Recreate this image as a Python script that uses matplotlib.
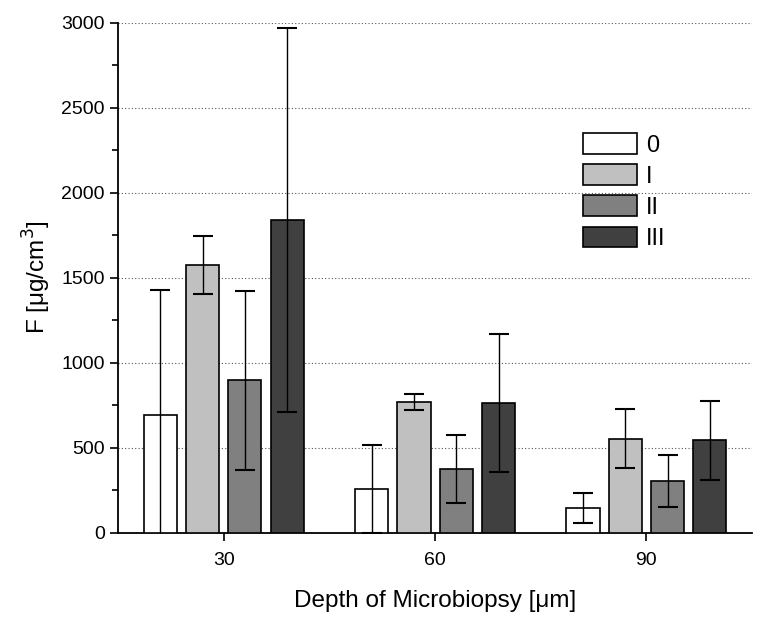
import numpy as np
import matplotlib
matplotlib.use("Agg")
import matplotlib.pyplot as plt

plt.rcParams['font.family'] = ['Liberation Sans', 'DejaVu Sans']

# data
depths = [30, 60, 90]
groups = ["0", "I", "II", "III"]
colors = ["#ffffff", "#c0c0c0", "#808080", "#404040"]
means = {
    "0":   [690, 257, 147],
    "I":   [1575, 770, 553],
    "II":  [896, 375, 306],
    "III": [1840, 763, 543],
}
errors = {
    "0":   [740, 256, 89],
    "I":   [170, 47, 173],
    "II":  [525, 200, 153],
    "III": [1130, 405, 233],
}

fig = plt.figure(figsize=(7.62, 6.26), dpi=100)
ax = fig.add_axes([0.155, 0.149, 0.832, 0.815])

x = np.array(depths, dtype=float)
width = 4.7
offsets = [-9, -3, 3, 9]
for g, c, off in zip(groups, colors, offsets):
    ax.bar(x + off, means[g], width, color=c, edgecolor="black", linewidth=1.2,
           label=g, zorder=3)
    ax.errorbar(x + off, means[g], yerr=errors[g], fmt="none", ecolor="black",
                elinewidth=1.0, capsize=7, capthick=1.5, zorder=4)

ax.set_xlim(15, 105)
ax.set_ylim(0, 3000)
ax.set_xticks(depths)
ax.set_yticks(np.arange(0, 3001, 500))
ax.set_yticks(np.arange(250, 3000, 500), minor=True)
ax.tick_params(axis="both", which="major", direction="out", length=6, width=1.2, labelsize=14)
ax.tick_params(axis="y", which="minor", direction="out", length=4, width=1.2)
ax.tick_params(axis="x", which="major", pad=8)
ax.yaxis.grid(True, which="major", linestyle=(0, (1, 2)), color="#555555", linewidth=0.8, zorder=0)
ax.set_axisbelow(True)

for s in ["top", "right"]:
    ax.spines[s].set_visible(False)
for s in ["left", "bottom"]:
    ax.spines[s].set_linewidth(1.3)

ax.set_xlabel("Depth of Microbiopsy [\u03bcm]", fontsize=17.5, labelpad=15)
ax.set_ylabel("F [\u03bcg/cm$^3$]", fontsize=17.5, labelpad=6)

ax.legend(loc="upper left", bbox_to_anchor=(0.714, 0.806), frameon=False, fontsize=17,
          borderpad=0, handlelength=2.3, handleheight=0.95, labelspacing=0.33,
          handletextpad=0.4)

fig.savefig("out.png", dpi=100)
